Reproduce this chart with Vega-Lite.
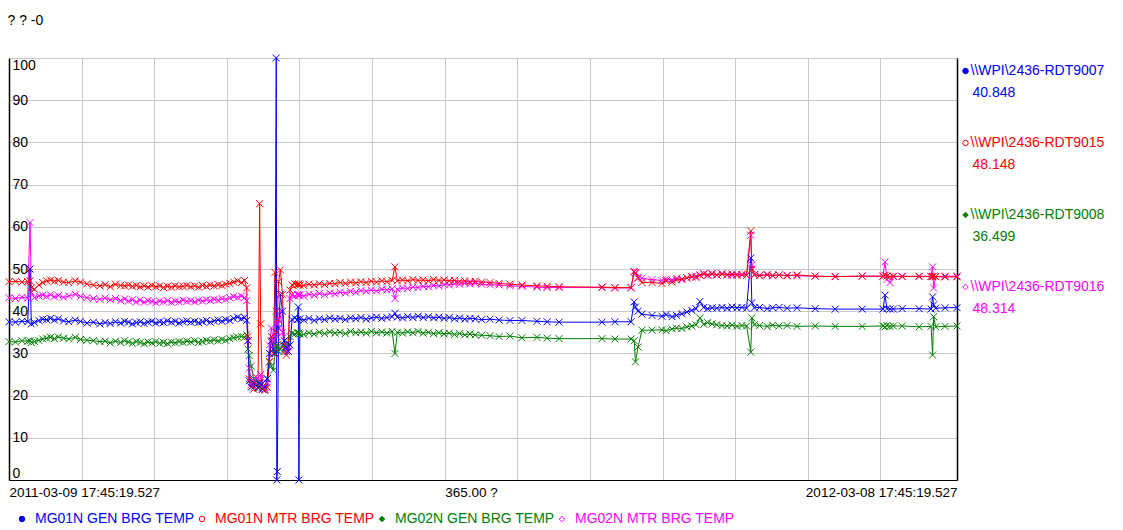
{
  "$schema": "https://vega.github.io/schema/vega-lite/v6.json",
  "background": "white",
  "padding": {"left": 3, "top": 13, "right": 0, "bottom": 0},
  "bounds": "flush",
  "columns": 2,
  "spacing": {"row": 29, "column": 8},
  "title": {"text": "? ? -0", "anchor": "start", "fontSize": 14, "fontWeight": "normal", "color": "#000000", "offset": 25, "dx": 4},
  "config": {
    "font": "Liberation Sans",
    "view": {"stroke": null},
    "legend": {"disable": true}
  },
  "datasets": {
    "trend": [
      {"d": 0, "k4": 37.5, "k3": 47.0, "k1": 32.8, "k2": 43.2},
      {"d": 2.5, "k4": 37.4, "k3": 47.1, "k1": 32.7, "k2": 43.0},
      {"d": 5.0, "k4": 37.6, "k3": 46.9, "k1": 33.0, "k2": 43.3},
      {"d": 7.2, "k4": 37.5, "k3": 47.0, "k1": 32.9, "k2": 43.1},
      {"d": 8.1, "k4": 50.0, "k3": 47.2, "k1": 33.0, "k2": 61.0},
      {"d": 8.6, "k4": 37.0, "k3": 45.6, "k1": 32.6, "k2": 44.5},
      {"d": 9.8, "k4": 37.3, "k3": 45.2, "k1": 32.8, "k2": 43.2},
      {"d": 11.5, "k4": 37.8, "k3": 46.2, "k1": 33.1, "k2": 43.6},
      {"d": 13.0, "k4": 38.1, "k3": 46.8, "k1": 33.4, "k2": 43.8},
      {"d": 14.5, "k4": 38.0, "k3": 47.2, "k1": 33.6, "k2": 43.5},
      {"d": 16.0, "k4": 38.3, "k3": 47.4, "k1": 33.8, "k2": 43.9},
      {"d": 17.5, "k4": 37.9, "k3": 47.1, "k1": 33.5, "k2": 43.4},
      {"d": 19.0, "k4": 38.2, "k3": 47.3, "k1": 33.9, "k2": 43.7},
      {"d": 21.0, "k4": 37.7, "k3": 46.9, "k1": 33.6, "k2": 43.3},
      {"d": 23.0, "k4": 37.5, "k3": 46.8, "k1": 33.4, "k2": 43.6},
      {"d": 25.5, "k4": 37.9, "k3": 47.2, "k1": 33.8, "k2": 44.0},
      {"d": 27.5, "k4": 37.6, "k3": 46.9, "k1": 33.3, "k2": 43.5},
      {"d": 30.0, "k4": 37.2, "k3": 46.5, "k1": 33.1, "k2": 43.2},
      {"d": 32.5, "k4": 37.4, "k3": 46.2, "k1": 33.0, "k2": 43.0},
      {"d": 35.0, "k4": 37.0, "k3": 46.0, "k1": 32.8, "k2": 42.8},
      {"d": 37.0, "k4": 37.3, "k3": 46.3, "k1": 32.9, "k2": 43.1},
      {"d": 39.0, "k4": 37.1, "k3": 45.8, "k1": 32.5, "k2": 42.7},
      {"d": 41.0, "k4": 37.5, "k3": 46.4, "k1": 32.9, "k2": 43.0},
      {"d": 43.0, "k4": 37.2, "k3": 46.1, "k1": 32.6, "k2": 42.5},
      {"d": 44.5, "k4": 37.6, "k3": 46.0, "k1": 33.0, "k2": 42.9},
      {"d": 46.0, "k4": 37.4, "k3": 46.2, "k1": 32.7, "k2": 42.4},
      {"d": 47.5, "k4": 37.0, "k3": 45.9, "k1": 32.4, "k2": 42.7},
      {"d": 49.0, "k4": 37.3, "k3": 46.1, "k1": 32.8, "k2": 42.2},
      {"d": 50.5, "k4": 37.5, "k3": 45.8, "k1": 32.6, "k2": 42.6},
      {"d": 52.0, "k4": 37.1, "k3": 46.0, "k1": 32.3, "k2": 42.1},
      {"d": 53.5, "k4": 37.4, "k3": 45.7, "k1": 32.7, "k2": 42.5},
      {"d": 55.0, "k4": 37.6, "k3": 46.1, "k1": 32.5, "k2": 42.3},
      {"d": 56.5, "k4": 37.2, "k3": 45.8, "k1": 32.8, "k2": 42.0},
      {"d": 58.0, "k4": 37.5, "k3": 46.0, "k1": 32.4, "k2": 42.4},
      {"d": 59.5, "k4": 37.3, "k3": 45.6, "k1": 32.6, "k2": 42.2},
      {"d": 61.0, "k4": 37.7, "k3": 45.9, "k1": 32.3, "k2": 42.5},
      {"d": 62.5, "k4": 37.4, "k3": 45.7, "k1": 32.7, "k2": 42.1},
      {"d": 64.0, "k4": 37.6, "k3": 46.0, "k1": 32.5, "k2": 42.4},
      {"d": 65.5, "k4": 37.2, "k3": 45.8, "k1": 32.8, "k2": 42.2},
      {"d": 67.0, "k4": 37.5, "k3": 45.9, "k1": 32.6, "k2": 42.6},
      {"d": 68.5, "k4": 37.7, "k3": 46.1, "k1": 32.9, "k2": 42.3},
      {"d": 70.0, "k4": 37.4, "k3": 45.8, "k1": 32.7, "k2": 42.5},
      {"d": 71.5, "k4": 37.6, "k3": 46.0, "k1": 33.0, "k2": 42.2},
      {"d": 73.0, "k4": 37.3, "k3": 45.7, "k1": 32.6, "k2": 42.6},
      {"d": 74.5, "k4": 37.5, "k3": 46.1, "k1": 32.8, "k2": 42.4},
      {"d": 76.0, "k4": 37.8, "k3": 45.9, "k1": 33.1, "k2": 42.7},
      {"d": 77.5, "k4": 37.4, "k3": 46.2, "k1": 32.9, "k2": 42.5},
      {"d": 79.0, "k4": 37.7, "k3": 46.0, "k1": 33.2, "k2": 42.8},
      {"d": 80.5, "k4": 37.9, "k3": 46.3, "k1": 33.0, "k2": 42.6},
      {"d": 82.0, "k4": 37.6, "k3": 46.1, "k1": 33.3, "k2": 43.0},
      {"d": 83.5, "k4": 38.0, "k3": 46.4, "k1": 33.1, "k2": 42.8},
      {"d": 85.0, "k4": 37.8, "k3": 46.6, "k1": 33.5, "k2": 43.2},
      {"d": 86.5, "k4": 38.3, "k3": 46.9, "k1": 33.7, "k2": 43.5},
      {"d": 88.0, "k4": 38.6, "k3": 47.2, "k1": 33.9, "k2": 43.3},
      {"d": 89.5, "k4": 38.2, "k3": 46.8, "k1": 34.0, "k2": 43.6},
      {"d": 90.7, "k4": 38.5, "k3": 47.3, "k1": 33.8, "k2": 43.2},
      {"d": 91.5, "k4": 37.8, "k3": 45.5, "k1": 34.4, "k2": 42.5},
      {"d": 92.0, "k4": 33.0, "k3": 34.0, "k1": 31.0, "k2": 33.0},
      {"d": 92.5, "k4": 23.5, "k3": 24.0, "k1": 29.5, "k2": 26.5},
      {"d": 93.3, "k4": 22.0, "k3": 22.5, "k1": 27.0, "k2": 23.0},
      {"d": 94.2, "k4": 23.0, "k3": 21.5, "k1": 24.0, "k2": 22.0},
      {"d": 95.0, "k4": 22.5, "k3": 22.8, "k1": 22.5, "k2": 24.5},
      {"d": 95.9, "k4": 21.8, "k3": 22.0, "k1": 23.0, "k2": 22.5},
      {"d": 96.5, "k4": 23.0, "k3": 65.5, "k1": 22.0, "k2": 23.5},
      {"d": 96.9, "k4": 22.5, "k3": 37.0, "k1": 22.5, "k2": 25.0},
      {"d": 97.6, "k4": 21.5, "k3": 21.5, "k1": 21.8, "k2": 22.0},
      {"d": 98.5, "k4": 22.0, "k3": 21.2, "k1": 21.5, "k2": 21.5},
      {"d": 99.4, "k4": 24.0, "k3": 22.0, "k1": 24.0, "k2": 23.0},
      {"d": 100.3, "k4": 30.0, "k3": 28.0, "k1": 28.0, "k2": 32.0},
      {"d": 101.0, "k4": 33.0, "k3": 34.0, "k1": 27.0, "k2": 36.0},
      {"d": 101.8, "k4": 31.0, "k3": 30.0, "k1": 26.0, "k2": 33.0},
      {"d": 102.4, "k4": 30.0, "k3": 49.2, "k1": 30.0, "k2": 32.0},
      {"d": 102.9, "k4": 100.0, "k3": 40.0, "k1": 31.0, "k2": 35.0},
      {"d": 103.1, "k4": 0.0, "k3": 35.0, "k1": 32.0, "k2": 34.0},
      {"d": 103.3, "k4": 2.0, "k3": 38.0, "k1": 31.5, "k2": 37.0},
      {"d": 103.8, "k4": 36.0, "k3": 47.0, "k1": 30.5, "k2": 38.0},
      {"d": 104.5, "k4": 44.0, "k3": 49.8, "k1": 31.0, "k2": 40.0},
      {"d": 105.3, "k4": 40.0, "k3": 44.0, "k1": 32.0, "k2": 35.0},
      {"d": 106.0, "k4": 33.0, "k3": 32.0, "k1": 30.5, "k2": 31.0},
      {"d": 106.8, "k4": 31.5, "k3": 29.6, "k1": 31.0, "k2": 30.5},
      {"d": 107.5, "k4": 30.5, "k3": 30.5, "k1": 32.5, "k2": 31.5},
      {"d": 108.2, "k4": 32.0, "k3": 45.0, "k1": 34.0, "k2": 43.0},
      {"d": 109.0, "k4": 38.0, "k3": 46.2, "k1": 34.8, "k2": 43.8},
      {"d": 110.0, "k4": 38.4, "k3": 46.5, "k1": 34.6, "k2": 43.6},
      {"d": 111.0, "k4": 38.0, "k3": 46.4, "k1": 34.9, "k2": 44.0},
      {"d": 111.4, "k4": 41.0, "k3": 46.3, "k1": 34.7, "k2": 43.7},
      {"d": 111.6, "k4": 0.0, "k3": 46.5, "k1": 34.8, "k2": 43.9},
      {"d": 112.0, "k4": 38.2, "k3": 46.2, "k1": 34.6, "k2": 43.8},
      {"d": 113.5, "k4": 37.9, "k3": 46.1, "k1": 34.5, "k2": 43.6},
      {"d": 115.5, "k4": 38.3, "k3": 46.4, "k1": 34.9, "k2": 44.0},
      {"d": 117.5, "k4": 37.8, "k3": 46.2, "k1": 34.6, "k2": 43.8},
      {"d": 119.5, "k4": 38.2, "k3": 46.5, "k1": 35.0, "k2": 44.2},
      {"d": 121.5, "k4": 38.0, "k3": 46.3, "k1": 34.7, "k2": 43.9},
      {"d": 123.5, "k4": 38.4, "k3": 46.6, "k1": 35.1, "k2": 44.3},
      {"d": 125.5, "k4": 38.1, "k3": 46.5, "k1": 34.8, "k2": 44.1},
      {"d": 127.5, "k4": 38.3, "k3": 46.8, "k1": 35.0, "k2": 44.5},
      {"d": 129.5, "k4": 38.0, "k3": 46.6, "k1": 34.7, "k2": 44.3},
      {"d": 131.5, "k4": 38.4, "k3": 46.9, "k1": 35.2, "k2": 44.7},
      {"d": 133.5, "k4": 38.2, "k3": 46.7, "k1": 34.9, "k2": 44.5},
      {"d": 135.5, "k4": 38.5, "k3": 47.0, "k1": 35.1, "k2": 44.9},
      {"d": 137.5, "k4": 38.1, "k3": 46.8, "k1": 34.8, "k2": 44.7},
      {"d": 139.5, "k4": 38.4, "k3": 47.1, "k1": 35.2, "k2": 45.0},
      {"d": 141.5, "k4": 38.6, "k3": 46.9, "k1": 34.9, "k2": 44.8},
      {"d": 143.5, "k4": 38.3, "k3": 47.2, "k1": 35.1, "k2": 45.2},
      {"d": 145.5, "k4": 38.5, "k3": 47.0, "k1": 34.8, "k2": 45.0},
      {"d": 147.5, "k4": 38.7, "k3": 47.3, "k1": 35.2, "k2": 45.3},
      {"d": 148.6, "k4": 39.5, "k3": 50.5, "k1": 30.0, "k2": 43.0},
      {"d": 149.5, "k4": 38.6, "k3": 47.2, "k1": 35.0, "k2": 45.2},
      {"d": 151.5, "k4": 38.4, "k3": 47.4, "k1": 34.8, "k2": 45.5},
      {"d": 153.5, "k4": 38.7, "k3": 47.2, "k1": 35.1, "k2": 45.4},
      {"d": 155.5, "k4": 38.5, "k3": 47.5, "k1": 34.9, "k2": 45.7},
      {"d": 157.5, "k4": 38.8, "k3": 47.3, "k1": 35.2, "k2": 45.6},
      {"d": 159.5, "k4": 38.5, "k3": 47.4, "k1": 34.8, "k2": 45.9},
      {"d": 161.5, "k4": 38.7, "k3": 47.2, "k1": 35.0, "k2": 45.8},
      {"d": 163.5, "k4": 38.4, "k3": 47.5, "k1": 34.7, "k2": 46.1},
      {"d": 165.5, "k4": 38.6, "k3": 47.3, "k1": 34.9, "k2": 46.0},
      {"d": 167.5, "k4": 38.3, "k3": 47.4, "k1": 34.6, "k2": 46.3},
      {"d": 169.5, "k4": 38.5, "k3": 47.2, "k1": 34.8, "k2": 46.2},
      {"d": 171.5, "k4": 38.2, "k3": 47.3, "k1": 34.5, "k2": 46.5},
      {"d": 173.5, "k4": 38.4, "k3": 47.1, "k1": 34.7, "k2": 46.4},
      {"d": 175.5, "k4": 38.1, "k3": 47.2, "k1": 34.4, "k2": 46.6},
      {"d": 177.5, "k4": 38.3, "k3": 47.0, "k1": 34.6, "k2": 46.5},
      {"d": 179.5, "k4": 38.2, "k3": 47.1, "k1": 34.4, "k2": 46.6},
      {"d": 182.0, "k4": 38.0, "k3": 46.9, "k1": 34.3, "k2": 46.4},
      {"d": 185.2, "k4": 38.1, "k3": 46.8, "k1": 34.2, "k2": 46.3},
      {"d": 188.7, "k4": 37.9, "k3": 46.6, "k1": 34.0, "k2": 46.2},
      {"d": 192.9, "k4": 37.8, "k3": 46.4, "k1": 34.1, "k2": 46.0},
      {"d": 197.5, "k4": 37.8, "k3": 46.2, "k1": 33.7, "k2": 45.9},
      {"d": 203.3, "k4": 37.6, "k3": 46.0, "k1": 33.8, "k2": 45.7},
      {"d": 207.2, "k4": 37.5, "k3": 45.9, "k1": 33.6, "k2": 45.6},
      {"d": 211.8, "k4": 37.4, "k3": 45.8, "k1": 33.5, "k2": 45.6},
      {"d": 228.3, "k4": 37.4, "k3": 45.7, "k1": 33.5, "k2": 45.6},
      {"d": 233.3, "k4": 37.5, "k3": 45.6, "k1": 33.4, "k2": 45.5},
      {"d": 239.5, "k4": 37.5, "k3": 45.6, "k1": 33.4, "k2": 45.5},
      {"d": 240.7, "k4": 42.2, "k3": 49.4, "k1": 33.0, "k2": 49.4},
      {"d": 241.2, "k4": 41.0, "k3": 49.0, "k1": 28.0, "k2": 49.2},
      {"d": 242.2, "k4": 40.0, "k3": 47.8, "k1": 31.5, "k2": 48.0},
      {"d": 243.7, "k4": 39.3, "k3": 46.8, "k1": 35.5, "k2": 47.8},
      {"d": 247.6, "k4": 39.0, "k3": 46.8, "k1": 35.5, "k2": 47.5},
      {"d": 251.4, "k4": 38.8, "k3": 46.6, "k1": 35.6, "k2": 47.3},
      {"d": 253.0, "k4": 39.2, "k3": 47.2, "k1": 35.4, "k2": 47.6},
      {"d": 255.3, "k4": 38.7, "k3": 46.9, "k1": 35.8, "k2": 47.4},
      {"d": 257.0, "k4": 39.0, "k3": 47.4, "k1": 36.0, "k2": 47.8},
      {"d": 259.1, "k4": 39.4, "k3": 47.6, "k1": 35.9, "k2": 47.5},
      {"d": 261.0, "k4": 39.8, "k3": 47.9, "k1": 36.3, "k2": 47.9},
      {"d": 262.9, "k4": 40.2, "k3": 48.2, "k1": 36.5, "k2": 48.1},
      {"d": 264.5, "k4": 40.6, "k3": 48.0, "k1": 36.8, "k2": 48.3},
      {"d": 266.0, "k4": 42.3, "k3": 48.5, "k1": 38.4, "k2": 48.6},
      {"d": 267.5, "k4": 40.9, "k3": 48.8, "k1": 36.9, "k2": 48.9},
      {"d": 269.0, "k4": 40.6, "k3": 48.6, "k1": 37.3, "k2": 48.5},
      {"d": 270.7, "k4": 40.8, "k3": 48.9, "k1": 37.0, "k2": 48.8},
      {"d": 272.5, "k4": 40.7, "k3": 48.6, "k1": 36.8, "k2": 48.6},
      {"d": 274.5, "k4": 40.9, "k3": 48.8, "k1": 36.6, "k2": 48.9},
      {"d": 276.5, "k4": 40.7, "k3": 48.6, "k1": 36.5, "k2": 48.7},
      {"d": 278.4, "k4": 41.0, "k3": 48.8, "k1": 36.7, "k2": 48.5},
      {"d": 280.3, "k4": 40.8, "k3": 48.5, "k1": 36.4, "k2": 48.8},
      {"d": 282.2, "k4": 40.9, "k3": 48.7, "k1": 36.6, "k2": 48.6},
      {"d": 284.0, "k4": 40.7, "k3": 48.5, "k1": 36.5, "k2": 48.5},
      {"d": 285.6, "k4": 52.6, "k3": 59.0, "k1": 30.3, "k2": 58.0},
      {"d": 286.0, "k4": 42.0, "k3": 50.0, "k1": 38.4, "k2": 51.0},
      {"d": 287.0, "k4": 40.8, "k3": 48.6, "k1": 36.8, "k2": 48.7},
      {"d": 289.0, "k4": 40.9, "k3": 48.4, "k1": 36.6, "k2": 48.5},
      {"d": 291.9, "k4": 40.6, "k3": 48.7, "k1": 36.4, "k2": 48.6},
      {"d": 294.0, "k4": 40.8, "k3": 48.5, "k1": 36.7, "k2": 48.4},
      {"d": 296.5, "k4": 40.9, "k3": 48.6, "k1": 36.5, "k2": 48.6},
      {"d": 299.6, "k4": 40.7, "k3": 48.4, "k1": 36.6, "k2": 48.5},
      {"d": 303.4, "k4": 40.8, "k3": 48.6, "k1": 36.4, "k2": 48.4},
      {"d": 310.4, "k4": 40.6, "k3": 48.3, "k1": 36.5, "k2": 48.3},
      {"d": 318.1, "k4": 40.5, "k3": 48.2, "k1": 36.4, "k2": 48.2},
      {"d": 328.5, "k4": 40.5, "k3": 48.3, "k1": 36.4, "k2": 48.3},
      {"d": 336.5, "k4": 40.5, "k3": 48.3, "k1": 36.5, "k2": 48.3},
      {"d": 337.3, "k4": 43.8, "k3": 48.5, "k1": 36.3, "k2": 51.7},
      {"d": 338.0, "k4": 40.6, "k3": 48.3, "k1": 36.6, "k2": 47.5},
      {"d": 339.2, "k4": 40.5, "k3": 48.2, "k1": 36.4, "k2": 46.8},
      {"d": 340.5, "k4": 40.5, "k3": 48.3, "k1": 36.5, "k2": 48.2},
      {"d": 343.9, "k4": 40.6, "k3": 48.2, "k1": 36.5, "k2": 48.3},
      {"d": 350.4, "k4": 40.6, "k3": 48.3, "k1": 36.3, "k2": 48.2},
      {"d": 355.0, "k4": 40.5, "k3": 48.2, "k1": 36.4, "k2": 48.3},
      {"d": 355.6, "k4": 43.4, "k3": 48.2, "k1": 29.6, "k2": 50.5},
      {"d": 356.0, "k4": 41.5, "k3": 48.3, "k1": 38.7, "k2": 45.5},
      {"d": 356.8, "k4": 40.7, "k3": 48.2, "k1": 36.3, "k2": 48.2},
      {"d": 360.4, "k4": 40.8, "k3": 48.1, "k1": 36.4, "k2": 48.3},
      {"d": 365, "k4": 40.848, "k3": 48.148, "k1": 36.499, "k2": 48.314}
    ],
    "tags": [
      {"key": "k4", "name": "MG01N GEN BRG TEMP", "tag": "\\\\WPI\\2436-RDT9007", "value": 40.848},
      {"key": "k3", "name": "MG01N MTR BRG TEMP", "tag": "\\\\WPI\\2436-RDT9015", "value": 48.148},
      {"key": "k1", "name": "MG02N GEN BRG TEMP", "tag": "\\\\WPI\\2436-RDT9008", "value": 36.499},
      {"key": "k2", "name": "MG02N MTR BRG TEMP", "tag": "\\\\WPI\\2436-RDT9016", "value": 48.314}
    ]
  },
  "concat": [
    {
      "width": 948,
      "height": 422,
      "data": {"name": "trend"},
      "transform": [{"fold": ["k1", "k2", "k3", "k4"], "as": ["key", "v"]}],
      "encoding": {
        "x": {
          "field": "d", "type": "quantitative",
          "scale": {"domain": [0, 365], "nice": false, "zero": false},
          "axis": {
            "title": null,
            "values": [0, 27.96, 55.92, 83.88, 111.84, 139.8, 167.76, 195.72, 223.68, 251.64, 279.6, 307.56, 335.52, 365],
            "grid": true, "gridColor": "#c8c8c8", "gridWidth": 1,
            "ticks": false,
            "domainColor": "#000000", "domainWidth": 1,
            "labelExpr": "datum.value == 0 ? '2011-03-09 17:45:19.527' : (datum.value == 365 ? '2012-03-08 17:45:19.527' : (datum.value == 167.76 ? '365.00 ?' : ''))",
            "labelAlign": {"condition": {"test": "datum.value == 365", "value": "right"}, "value": "left"},
            "labelBaseline": "top",
            "labelOverlap": false, "labelBound": false, "labelFlush": false,
            "labelPadding": 5, "labelFontSize": 13.5, "labelColor": "#000000"
          }
        },
        "y": {
          "field": "v", "type": "quantitative",
          "scale": {"domain": [0, 100], "nice": false},
          "axis": {
            "title": null,
            "values": [0, 10, 20, 30, 40, 50, 60, 70, 80, 90, 100],
            "grid": true, "gridColor": "#c8c8c8", "gridWidth": 1,
            "ticks": false,
            "domainColor": "#000000", "domainWidth": 1.5,
            "labelAlign": "left", "labelPadding": -3, "labelFlush": true,
            "labelFontSize": 14, "labelColor": "#000000"
          }
        },
        "color": {
          "field": "key", "type": "nominal",
          "scale": {"domain": ["k4", "k3", "k1", "k2"], "range": ["#0000ff", "#ff0000", "#008000", "#ff00ff"]},
          "legend": null
        }
      },
      "layer": [
        {"mark": {"type": "line", "strokeWidth": 1}},
        {
          "mark": {"type": "point", "shape": "M-1,-1L1,1M-1,1L1,-1", "size": 49, "filled": false, "strokeWidth": 1, "opacity": 1},
          "encoding": {
            "y": {
              "field": "v", "type": "quantitative",
              "scale": {"domain": [0, 100], "nice": false},
              "axis": {"orient": "right", "title": null, "labels": false, "ticks": false, "grid": false, "domainColor": "#000000", "domainWidth": 1.5}
            }
          }
        }
      ],
      "resolve": {"axis": {"y": "independent"}}
    },
    {
      "width": 1,
      "height": 288,
      "data": {"name": "tags"},
      "layer": [
        {
          "mark": {"type": "point", "filled": false, "size": 30, "strokeWidth": 1, "opacity": 1},
          "encoding": {
            "y": {"field": "key", "type": "nominal", "bandPosition": 0.1806, "scale": {"type": "band", "domain": ["k4", "k3", "k1", "k2"], "paddingInner": 0, "paddingOuter": 0}, "axis": null},
            "shape": {"field": "key", "type": "nominal", "scale": {"domain": ["k4", "k3", "k1", "k2"], "range": ["circle", "circle", "diamond", "diamond"]}, "legend": null},
            "color": {"field": "key", "type": "nominal", "scale": {"domain": ["k4", "k3", "k1", "k2"], "range": ["#0000ff", "#ff0000", "#008000", "#ff00ff"]}, "legend": null},
            "fill": {"field": "key", "type": "nominal", "scale": {"domain": ["k4", "k3", "k1", "k2"], "range": ["#0000ff", "#ffffff", "#008000", "#ffffff"]}, "legend": null}
          }
        },
        {
          "mark": {"type": "text", "align": "left", "baseline": "middle", "dx": 5, "fontSize": 14},
          "encoding": {
            "y": {"field": "key", "type": "nominal", "bandPosition": 0.1806, "scale": {"type": "band", "domain": ["k4", "k3", "k1", "k2"], "paddingInner": 0, "paddingOuter": 0}, "axis": null},
            "text": {"field": "tag"},
            "color": {"field": "key", "type": "nominal", "scale": {"domain": ["k4", "k3", "k1", "k2"], "range": ["#0000ff", "#ff0000", "#008000", "#ff00ff"]}, "legend": null}
          }
        },
        {
          "mark": {"type": "text", "align": "left", "baseline": "middle", "dx": 7, "fontSize": 14},
          "encoding": {
            "y": {"field": "key", "type": "nominal", "bandPosition": 0.4861, "scale": {"type": "band", "domain": ["k4", "k3", "k1", "k2"], "paddingInner": 0, "paddingOuter": 0}, "axis": null},
            "text": {"field": "value", "format": ".3f"},
            "color": {"field": "key", "type": "nominal", "scale": {"domain": ["k4", "k3", "k1", "k2"], "range": ["#0000ff", "#ff0000", "#008000", "#ff00ff"]}, "legend": null}
          }
        }
      ]
    },
    {
      "width": 720,
      "height": 20,
      "data": {"name": "tags"},
      "layer": [
        {
          "mark": {"type": "point", "filled": false, "size": 30, "strokeWidth": 1, "opacity": 1},
          "encoding": {
            "x": {"field": "key", "type": "nominal", "bandPosition": 0.0722, "scale": {"type": "band", "domain": ["k4", "k3", "k1", "k2"], "paddingInner": 0, "paddingOuter": 0}, "axis": null},
            "shape": {"field": "key", "type": "nominal", "scale": {"domain": ["k4", "k3", "k1", "k2"], "range": ["circle", "circle", "diamond", "diamond"]}, "legend": null},
            "color": {"field": "key", "type": "nominal", "scale": {"domain": ["k4", "k3", "k1", "k2"], "range": ["#0000ff", "#ff0000", "#008000", "#ff00ff"]}, "legend": null},
            "fill": {"field": "key", "type": "nominal", "scale": {"domain": ["k4", "k3", "k1", "k2"], "range": ["#0000ff", "#ffffff", "#008000", "#ffffff"]}, "legend": null}
          }
        },
        {
          "mark": {"type": "text", "align": "left", "baseline": "middle", "fontSize": 14},
          "encoding": {
            "x": {"field": "key", "type": "nominal", "bandPosition": 0.1444, "scale": {"type": "band", "domain": ["k4", "k3", "k1", "k2"], "paddingInner": 0, "paddingOuter": 0}, "axis": null},
            "text": {"field": "name"},
            "color": {"field": "key", "type": "nominal", "scale": {"domain": ["k4", "k3", "k1", "k2"], "range": ["#0000ff", "#ff0000", "#008000", "#ff00ff"]}, "legend": null}
          }
        }
      ]
    }
  ]
}
